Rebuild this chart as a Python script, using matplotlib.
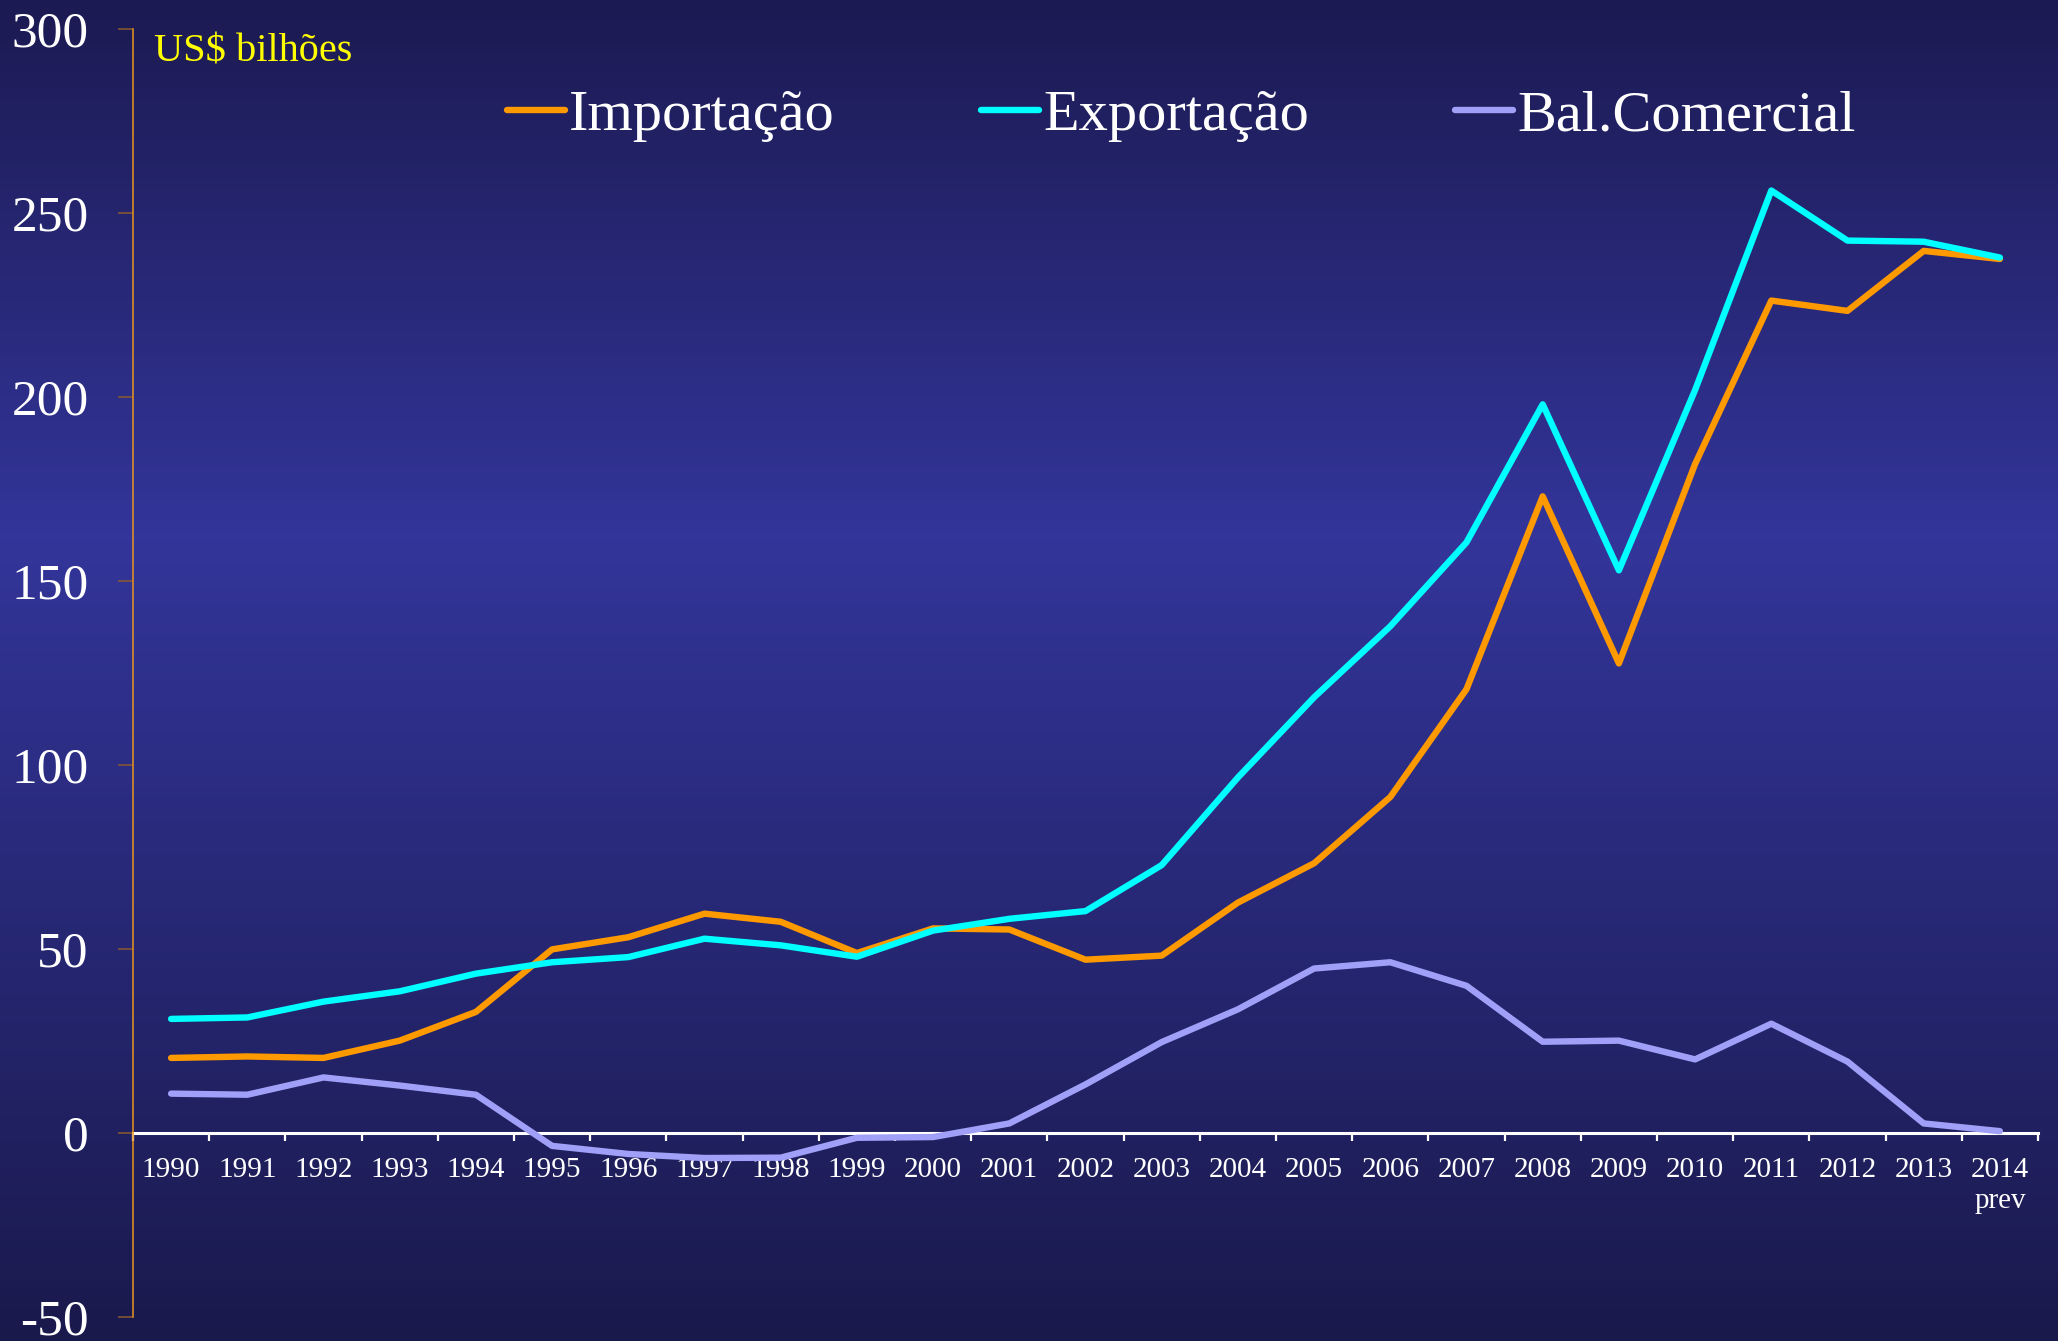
import numpy as np
import matplotlib.pyplot as plt
from matplotlib.colors import LinearSegmentedColormap

plt.rcParams['font.family'] = ['Liberation Serif', 'DejaVu Serif']
plt.rcParams['axes.unicode_minus'] = False

# data (US$ bilhões)
years = ['1990', '1991', '1992', '1993', '1994', '1995', '1996', '1997', '1998',
         '1999', '2000', '2001', '2002', '2003', '2004', '2005', '2006', '2007',
         '2008', '2009', '2010', '2011', '2012', '2013', '2014']
importacao = [20.4, 20.8, 20.4, 25.1, 32.9, 49.9, 53.2, 59.6, 57.4, 48.9,
              55.6, 55.3, 47.1, 48.2, 62.6, 73.3, 91.3, 120.6, 173.0, 127.6,
              181.8, 226.2, 223.4, 239.7, 237.5]
exportacao = [31.0, 31.4, 35.7, 38.5, 43.3, 46.4, 47.8, 52.8, 51.0, 47.9,
              55.0, 58.2, 60.3, 72.8, 96.6, 118.4, 137.7, 160.5, 198.0, 152.9,
              201.9, 256.1, 242.5, 242.2, 237.9]
balanca = [10.7, 10.4, 15.1, 12.9, 10.4, -3.5, -5.7, -6.8, -6.7, -1.3,
           -1.1, 2.6, 13.2, 24.7, 33.6, 44.7, 46.4, 40.0, 24.8, 25.1,
           20.0, 29.7, 19.4, 2.6, 0.5]

W, H = 2058, 1341
fig = plt.figure(figsize=(W / 100, H / 100), dpi=100)

# background gradient
bg = fig.add_axes([0, 0, 1, 1], zorder=-1)
cmap = LinearSegmentedColormap.from_list(
    'bg', [(0.0, '#1c1a52'), (0.40, '#33359a'), (1.0, '#1a194c')])
grad = np.linspace(0, 1, 256).reshape(-1, 1)
bg.imshow(grad, aspect='auto', cmap=cmap, extent=[0, 1, 0, 1], origin='upper')
bg.axis('off')

ax = fig.add_axes([133 / W, 1 - 1317 / H, (2038 - 133) / W, (1317 - 29) / H])
ax.patch.set_alpha(0)

x = np.arange(len(years))
lw = 4.6
ax.plot(x, importacao, color='#ff9900', lw=lw, label='Importação', zorder=3,
        solid_joinstyle='round', solid_capstyle='round')
ax.plot(x, exportacao, color='#00ffff', lw=lw, label='Exportação', zorder=3,
        solid_joinstyle='round', solid_capstyle='round')
ax.plot(x, balanca, color='#a0a0f8', lw=lw, label='Bal.Comercial', zorder=3,
        solid_joinstyle='round', solid_capstyle='round')

ax.set_xlim(-0.5, len(years) - 0.5)
ax.set_ylim(-50, 300)

# spines
for s in ['top', 'right']:
    ax.spines[s].set_visible(False)
ax.spines['left'].set_color('#e8961e')
ax.spines['left'].set_linewidth(1.1)
ax.spines['bottom'].set_position(('data', 0))
ax.spines['bottom'].set_color('white')
ax.spines['bottom'].set_linewidth(2.2)
ax.spines['bottom'].set_zorder(2)

# y ticks
yt = [-50, 0, 50, 100, 150, 200, 250, 300]
ax.set_yticks(yt)
ax.set_yticklabels([str(v) for v in yt])
ax.tick_params(axis='y', direction='out', length=11, width=1.1,
               color='#8a5a30', labelcolor='white', labelsize=37, pad=21)

# x ticks: marks at boundaries, labels at centres
ax.set_xticks(np.arange(-0.5, len(years)), labels=[''] * (len(years) + 1))
ax.tick_params(axis='x', which='major', direction='out', length=6, width=1.6,
               color='white')
ax.set_xticks(x, labels=years, minor=True)
ax.tick_params(axis='x', which='minor', length=0, labelcolor='white',
               labelsize=21, pad=17)
ax.text(x[-1], -18.5, 'prev', color='white', fontsize=21,
        ha='center', va='center')

fig.text(154 / W, 1 - 61 / H, 'US$ bilhões', color='#ffff00', fontsize=29,
         va='baseline', ha='left')

leg = ax.legend(loc='center', bbox_to_anchor=(1181 / W, 1 - 116 / H),
                bbox_transform=fig.transFigure, ncol=3, frameon=False,
                fontsize=42, handlelength=1.0, handletextpad=0.07,
                columnspacing=2.5, borderpad=0)
for t in leg.get_texts():
    t.set_color('white')

fig.savefig('out.png', dpi=100)
